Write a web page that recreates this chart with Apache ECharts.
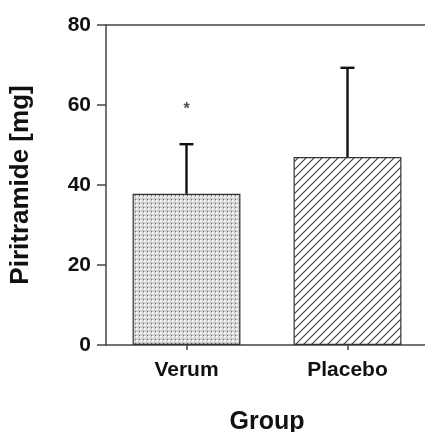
<!DOCTYPE html>
<html><head><meta charset="utf-8">
<script src="https://cdn.jsdelivr.net/npm/echarts@6/dist/echarts.min.js"></script>
<style>html,body{margin:0;padding:0;background:#fff}#c{width:425px;height:432px}</style>
</head><body><div id="c"></div>
<script>
const categories = ['Verum', 'Placebo'];
const means = [37.8, 47.0];
const upperErr = [50.2, 69.3];
const starValues = [59.8, null];
const yTicks = [0, 20, 40, 60, 80];

function dotPattern() {
  const c = document.createElement('canvas'); c.width = 4; c.height = 4;
  const g = c.getContext('2d');
  g.fillStyle = '#d0d0d0'; g.fillRect(0, 0, 4, 4);
  g.fillStyle = '#f4f4f4'; g.fillRect(0, 0, 2, 2);
  g.fillStyle = '#6a6a6a'; g.fillRect(3, 3, 1, 1);
  return c;
}
function hatchPattern() {
  const s = 8;
  const c = document.createElement('canvas'); c.width = s; c.height = s;
  const g = c.getContext('2d');
  g.fillStyle = '#fff'; g.fillRect(0, 0, s, s);
  g.strokeStyle = '#444'; g.lineWidth = 1.2;
  g.beginPath();
  g.moveTo(-1, s + 1); g.lineTo(s + 1, -1);
  g.moveTo(-1, 1); g.lineTo(1, -1);
  g.moveTo(s - 1, s + 1); g.lineTo(s + 1, s - 1);
  g.stroke();
  return c;
}
const fills = [
  { image: dotPattern(), repeat: 'repeat' },
  { image: hatchPattern(), repeat: 'repeat' }
];

const chart = echarts.init(document.getElementById('c'));
const font = 'Liberation Sans, Arial, sans-serif';
chart.setOption({
  animation: false,
  grid: { left: 106, top: 25, width: 322, height: 320, outerBoundsMode: 'none', containLabel: false },
  xAxis: [{
    type: 'category', data: categories,
    axisLine: { lineStyle: { color: '#444', width: 1.5 } },
    axisTick: { show: true, alignWithLabel: true, length: 5, lineStyle: { color: '#444', width: 1.5 } },
    axisLabel: { color: '#111', fontWeight: 'bold', fontSize: 21, fontFamily: font, margin: 15 },
    name: 'Group', nameLocation: 'middle', nameGap: 65,
    nameTextStyle: { color: '#111', fontWeight: 'bold', fontSize: 25, fontFamily: font }
  }, {
    type: 'category', data: categories, position: 'top',
    axisLine: { show: true, lineStyle: { color: '#444', width: 1.5 } },
    axisTick: { show: false }, axisLabel: { show: false }
  }],
  yAxis: {
    type: 'value', min: 0, max: 80, interval: 20,
    axisLine: { show: true, lineStyle: { color: '#444', width: 1.5 } },
    axisTick: { show: true, inside: false, length: 9, lineStyle: { color: '#444', width: 1.5 } },
    splitLine: { show: false },
    axisLabel: { color: '#111', fontWeight: 'bold', fontSize: 21, fontFamily: font, margin: 15,
      formatter: v => yTicks.includes(v) ? String(v) : '' },
    name: 'Piritramide [mg]', nameLocation: 'middle', nameGap: 72, nameRotate: 90,
    nameTextStyle: { color: '#111', fontWeight: 'bold', fontSize: 26, fontFamily: font }
  },
  series: [{
    type: 'bar', barWidth: '67%',
    data: means.map((v, i) => ({ value: v, itemStyle: { color: fills[i], borderColor: '#333', borderWidth: 1.2 } })),
    z: 2
  }, {
    type: 'custom',
    data: categories.map((c, i) => [i, means[i], upperErr[i]]),
    renderItem: (params, api) => {
      const base = api.coord([api.value(0), api.value(1)]);
      const top = api.coord([api.value(0), api.value(2)]);
      const hw = 7;
      return { type: 'group', children: [
        { type: 'line', shape: { x1: base[0], y1: base[1], x2: top[0], y2: top[1] }, style: { stroke: '#111', lineWidth: 2.4 } },
        { type: 'line', shape: { x1: top[0] - hw, y1: top[1], x2: top[0] + hw, y2: top[1] }, style: { stroke: '#111', lineWidth: 2.4 } }
      ]};
    },
    z: 3
  }, {
    type: 'scatter', symbolSize: 0,
    data: starValues.map((v, i) => v == null ? null : [i, v]).filter(d => d),
    label: { show: true, position: 'inside', formatter: '*', color: '#222', fontSize: 16, fontWeight: 'bold', fontFamily: font, offset: [0, 4] },
    z: 4
  }]
});
</script></body></html>
